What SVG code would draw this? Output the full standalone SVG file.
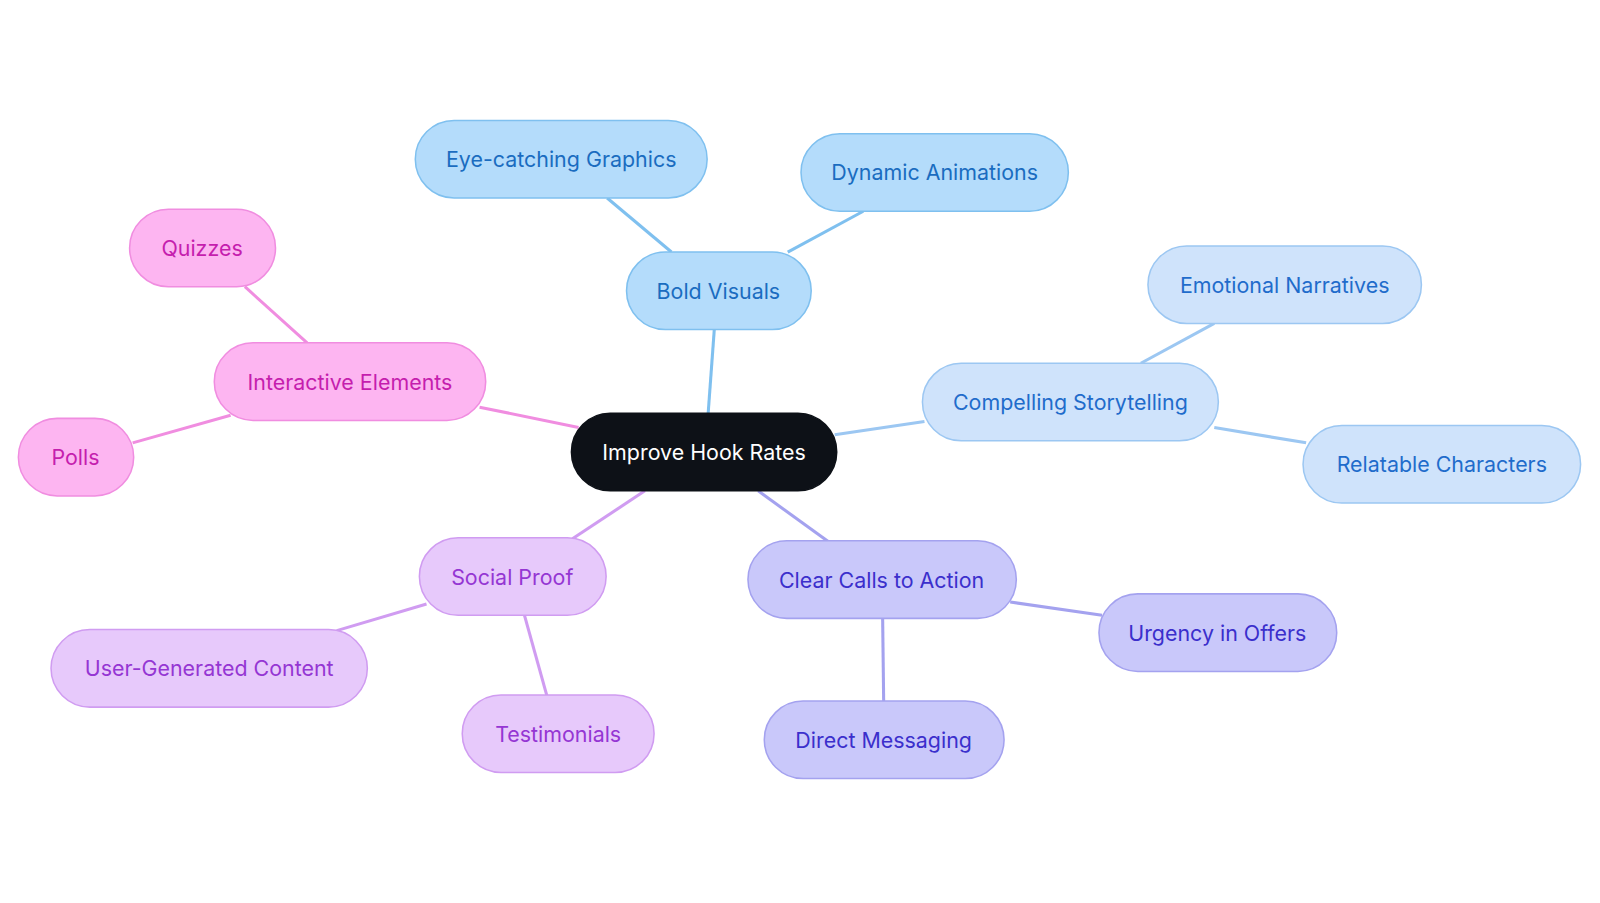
<svg xmlns="http://www.w3.org/2000/svg" width="1600" height="903" viewBox="0 0 1600 903">
<style>
text{font-family:Inter,"Noto Sans",sans-serif;font-size:21px;text-anchor:middle;dominant-baseline:central}
rect{stroke-width:1.5}
.b rect{fill:#b4dcfb;stroke:#7fc0ef}.b text{fill:#1a6cc0}
.l rect{fill:#cfe3fb;stroke:#9cc7f2}.l text{fill:#1f6ccb}
.p rect{fill:#c9c8fa;stroke:#a4a2ef}.p text{fill:#3b2fcc}
.v rect{fill:#e7c9fb;stroke:#d09cf1}.v text{fill:#9536d3}
.k rect{fill:#fdb5f1;stroke:#f08de0}.k text{fill:#c51eae}
.c{stroke-width:3;fill:none}
</style>
<rect width="1600" height="903" fill="#fff"/>
<g transform="scale(1.0204)">
<g id="connectors">
<line class="c" stroke="#7fc0ef" x1="694" y1="405" x2="700" y2="323"/>
<line class="c" stroke="#7fc0ef" x1="658" y1="247" x2="595" y2="194"/>
<line class="c" stroke="#7fc0ef" x1="772" y1="247" x2="846" y2="207"/>
<line class="c" stroke="#9cc7f2" x1="818" y1="426" x2="906" y2="413"/>
<line class="c" stroke="#9cc7f2" x1="1118" y1="356" x2="1190" y2="317"/>
<line class="c" stroke="#9cc7f2" x1="1190" y1="419" x2="1280" y2="434"/>
<line class="c" stroke="#a4a2ef" x1="743" y1="481" x2="812" y2="531"/>
<line class="c" stroke="#a4a2ef" x1="990" y1="590" x2="1080" y2="603"/>
<line class="c" stroke="#a4a2ef" x1="865" y1="606" x2="866" y2="687"/>
<line class="c" stroke="#d09cf1" x1="632" y1="481" x2="561" y2="528"/>
<line class="c" stroke="#d09cf1" x1="418" y1="592" x2="330" y2="618"/>
<line class="c" stroke="#d09cf1" x1="514" y1="603" x2="536" y2="682"/>
<line class="c" stroke="#f08de0" x1="567" y1="419" x2="470" y2="399"/>
<line class="c" stroke="#f08de0" x1="301" y1="336" x2="240" y2="281"/>
<line class="c" stroke="#f08de0" x1="226" y1="407" x2="130" y2="434"/>
</g>
<g id="center"><rect x="560" y="405" width="260" height="76" rx="38" fill="#0d1117" stroke="#0d1117"/><text x="690" y="443" fill="#fff">Improve Hook Rates</text></g>
<g id="bold" class="b"><rect x="614" y="247" width="181" height="76" rx="38"/><text x="704" y="285">Bold Visuals</text></g>
<g id="eye" class="b"><rect x="407" y="118" width="286" height="76" rx="38"/><text x="550" y="156">Eye-catching Graphics</text></g>
<g id="dyn" class="b"><rect x="785" y="131" width="262" height="76" rx="38"/><text x="916" y="169">Dynamic Animations</text></g>
<g id="story" class="l"><rect x="904" y="356" width="290" height="76" rx="38"/><text x="1049" y="394">Compelling Storytelling</text></g>
<g id="emo" class="l"><rect x="1125" y="241" width="268" height="76" rx="38"/><text x="1259" y="279">Emotional Narratives</text></g>
<g id="rel" class="l"><rect x="1277" y="417" width="272" height="76" rx="38"/><text x="1413" y="455">Relatable Characters</text></g>
<g id="cta" class="p"><rect x="733" y="530" width="263" height="76" rx="38"/><text x="864" y="568">Clear Calls to Action</text></g>
<g id="urg" class="p"><rect x="1077" y="582" width="233" height="76" rx="38"/><text x="1193" y="620">Urgency in Offers</text></g>
<g id="dm" class="p"><rect x="749" y="687" width="235" height="76" rx="38"/><text x="866" y="725">Direct Messaging</text></g>
<g id="sp" class="v"><rect x="411" y="527" width="183" height="76" rx="38"/><text x="502" y="565">Social Proof</text></g>
<g id="ugc" class="v"><rect x="50" y="617" width="310" height="76" rx="38"/><text x="205" y="655">User-Generated Content</text></g>
<g id="test" class="v"><rect x="453" y="681" width="188" height="76" rx="38"/><text x="547" y="719">Testimonials</text></g>
<g id="inter" class="k"><rect x="210" y="336" width="266" height="76" rx="38"/><text x="343" y="374">Interactive Elements</text></g>
<g id="quiz" class="k"><rect x="127" y="205" width="143" height="76" rx="38"/><text x="198" y="243">Quizzes</text></g>
<g id="polls" class="k"><rect x="18" y="410" width="113" height="76" rx="38"/><text x="74" y="448">Polls</text></g>
</g>
</svg>
